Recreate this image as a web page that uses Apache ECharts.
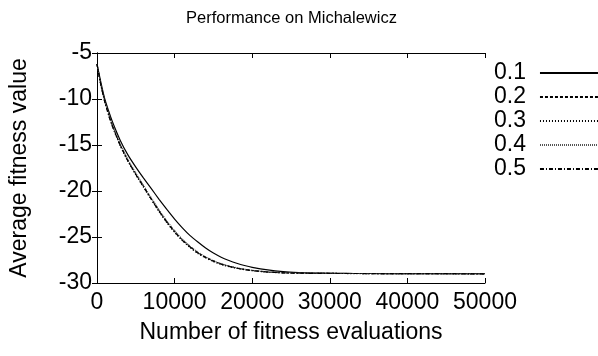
<!DOCTYPE html>
<html>
<head>
<meta charset="utf-8">
<script src="https://cdn.jsdelivr.net/npm/echarts@6/dist/echarts.min.js"></script>
<style>
  html, body { margin: 0; padding: 0; background: #fff; }
  #chart { width: 598px; height: 356px; }
</style>
</head>
<body>
<div id="chart"></div>
<script>
// Fitness evaluations at which the average fitness was sampled
const evaluations = [0, 500, 1000, 1500, 2000, 3000, 4000, 5000, 6000, 7000, 8000, 9000, 10000,
  11000, 12000, 13000, 14000, 15000, 16000, 17000, 18000, 19000, 20000, 22000, 24000, 26000,
  28000, 30000, 32000, 34000, 36000, 38000, 40000, 42000, 44000, 46000, 48000, 50000];

// Average fitness value per parameter setting
const run01 = [-6.2, -8.2, -10.0, -11.3, -12.5, -14.5, -16.1, -17.4, -18.6, -19.75, -20.9, -22.0, -23.05,
  -24.0, -24.85, -25.55, -26.2, -26.75, -27.2, -27.55, -27.85, -28.1, -28.3, -28.58, -28.76, -28.86,
  -28.92, -28.95, -28.96, -28.97, -28.97, -28.98, -28.98, -28.98, -28.99, -28.99, -28.99, -28.99];
const run02 = [-6.2, -8.4, -10.2, -11.6, -12.9, -15.0, -16.7, -18.15, -19.5, -20.85, -22.15, -23.35, -24.4,
  -25.3, -26.05, -26.7, -27.2, -27.6, -27.92, -28.17, -28.37, -28.52, -28.63, -28.8, -28.89, -28.93,
  -28.95, -28.96, -28.97, -28.97, -28.98, -28.98, -28.98, -28.99, -28.99, -28.99, -28.99, -29.0];
const run03 = [-6.2, -8.5, -10.3, -11.7, -13.0, -15.1, -16.8, -18.25, -19.6, -20.95, -22.25, -23.45, -24.5,
  -25.4, -26.15, -26.8, -27.28, -27.68, -27.98, -28.22, -28.41, -28.55, -28.66, -28.82, -28.9, -28.93,
  -28.95, -28.96, -28.97, -28.98, -28.98, -28.98, -28.99, -28.99, -28.99, -29.0, -29.0, -29.0];
const run04 = [-6.2, -8.4, -10.2, -11.6, -12.8, -14.9, -16.6, -18.05, -19.4, -20.75, -22.05, -23.25, -24.3,
  -25.25, -26.0, -26.65, -27.15, -27.57, -27.9, -28.15, -28.35, -28.5, -28.62, -28.79, -28.88, -28.92,
  -28.94, -28.96, -28.96, -28.97, -28.97, -28.98, -28.98, -28.98, -28.99, -28.99, -28.99, -28.99];
const run05 = [-6.2, -8.5, -10.3, -11.8, -13.0, -15.05, -16.75, -18.2, -19.55, -20.9, -22.2, -23.4, -24.45,
  -25.35, -26.1, -26.75, -27.23, -27.63, -27.95, -28.2, -28.39, -28.54, -28.65, -28.81, -28.89, -28.93,
  -28.95, -28.96, -28.97, -28.97, -28.98, -28.98, -28.99, -28.99, -28.99, -28.99, -29.0, -29.0];

const seriesNames = ['0.1', '0.2', '0.3', '0.4', '0.5'];
const seriesValues = [run01, run02, run03, run04, run05];

const xTicks = { min: 0, max: 50000, interval: 10000 };
const yTicks = { min: -30, max: -5, interval: 5 };

const FONT = '"Liberation Sans", Arial, sans-serif';

// Gnuplot-like line styles: solid, dashed, dotted, fine dotted, dash-dot
const lineStyles = [
  { type: 'solid', color: '#000', width: 1.2 },
  { type: [3, 2], color: '#000', width: 1.2 },
  { type: [1, 2], color: '#000', width: 1.2 },
  { type: [1, 1], color: '#555', width: 1.2 },
  { type: [4, 2, 1, 2], color: '#000', width: 1.2 }
];

const chart = echarts.init(document.getElementById('chart'), null, { renderer: 'canvas' });

const tickCommon = {
  axisLine: { show: true, lineStyle: { color: '#000', width: 1 } },
  axisTick: { show: true, inside: true, length: 5, lineStyle: { color: '#000' } },
  splitLine: { show: false }
};

const plainNumber = (v) => String(v);

chart.setOption({
  animation: false,
  backgroundColor: '#fff',
  title: {
    text: 'Performance on Michalewicz',
    left: 181,
    top: 5,
    textStyle: { fontFamily: FONT, fontSize: 16.5, fontWeight: 'normal', color: '#000' }
  },
  legend: {
    orient: 'vertical',
    left: 494,
    top: 61,
    padding: 0,
    align: 'right',
    itemWidth: 58,
    itemHeight: 14,
    itemGap: 0,
    // keys show the line style only, without a point marker
    itemStyle: { opacity: 0, borderWidth: 0 },
    textStyle: { fontFamily: FONT, fontSize: 23, color: '#000', lineHeight: 24, padding: [0, 9, 0, 0] },
    data: seriesNames
  },
  grid: { left: 97, right: 113, top: 53, bottom: 73 },
  xAxis: [
    Object.assign({
      type: 'value', position: 'bottom',
      min: xTicks.min, max: xTicks.max, interval: xTicks.interval,
      name: 'Number of fitness evaluations',
      nameLocation: 'middle', nameGap: 38,
      nameTextStyle: { fontFamily: FONT, fontSize: 23, color: '#000' },
      axisLabel: { fontFamily: FONT, fontSize: 23, color: '#000', margin: 8, formatter: plainNumber }
    }, tickCommon),
    Object.assign({
      type: 'value', position: 'top',
      min: xTicks.min, max: xTicks.max, interval: xTicks.interval,
      axisLabel: { show: false }
    }, tickCommon)
  ],
  yAxis: [
    Object.assign({
      type: 'value', position: 'left',
      min: yTicks.min, max: yTicks.max, interval: yTicks.interval,
      name: 'Average fitness value',
      nameLocation: 'middle', nameGap: 66, nameRotate: 90,
      nameTextStyle: { fontFamily: FONT, fontSize: 23, color: '#000' },
      axisLabel: { fontFamily: FONT, fontSize: 23, color: '#000', margin: 5, formatter: plainNumber }
    }, tickCommon),
    Object.assign({
      type: 'value', position: 'right',
      min: yTicks.min, max: yTicks.max, interval: yTicks.interval,
      axisLabel: { show: false }
    }, tickCommon)
  ],
  series: seriesNames.map((name, i) => ({
    name: name,
    type: 'line',
    xAxisIndex: 0,
    yAxisIndex: 0,
    symbol: 'none',
    smooth: 0.2,
    lineStyle: lineStyles[i],
    itemStyle: { color: lineStyles[i].color },
    data: evaluations.map((x, k) => [x, seriesValues[i][k]])
  }))
});
</script>
</body>
</html>
